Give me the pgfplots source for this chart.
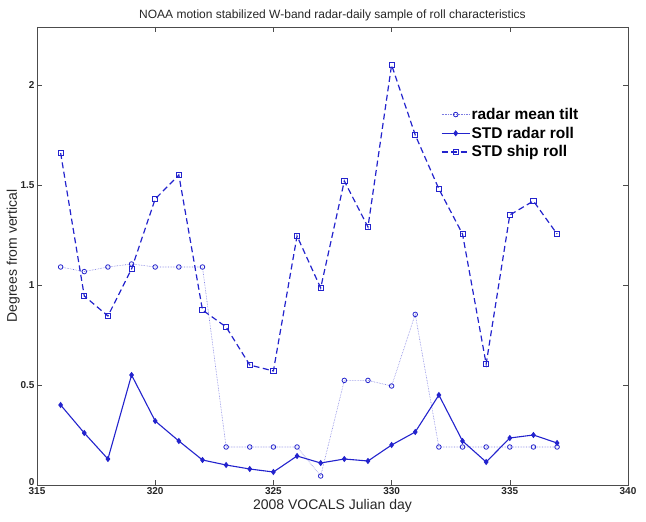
\documentclass[border=0pt]{standalone}
\usepackage{pgfplots}
\pgfplotsset{compat=1.18}
\usepackage{fontspec}
\setmainfont{Liberation Sans}
\definecolor{mb}{RGB}{35,35,205}
\pgfplotstableread{
x tilt radar ship
316 1.09 0.40 1.66
317 1.067 0.26 0.945
318 1.09 0.13 0.845
319 1.105 0.55 1.08
320 1.09 0.32 1.43
321 1.09 0.22 1.55
322 1.09 0.125 0.875
323 0.19 0.10 0.79
324 0.19 0.08 0.60
325 0.19 0.065 0.57
326 0.19 0.145 1.245
327 0.045 0.11 0.985
328 0.523 0.13 1.52
329 0.523 0.12 1.29
330 0.495 0.20 2.10
331 0.853 0.265 1.75
332 0.19 0.45 1.48
333 0.19 0.22 1.255
334 0.19 0.115 0.605
335 0.19 0.235 1.35
336 0.19 0.25 1.42
337 0.19 0.21 1.255
}\data
\begin{document}
\begin{tikzpicture}
\begin{axis}[
  name=ax,
  scale only axis,
  width=591pt, height=458pt,
  xmin=315, xmax=340, ymin=0, ymax=2.29,
  xtick={315,320,...,340},
  ytick={0,0.5,1,1.5,2},
  yticklabels={\raisebox{5pt}{0},0.5,1,1.5,2},
  xticklabel style={/pgf/number format/1000 sep={}},
  /pgf/number format/assume math mode=true,
  tick align=inside,
  major tick length=5pt,
  tick style={black!70, thin},
  axis line style={black!70, thin},
  ticklabel style={font=\fontsize{10}{12}\selectfont\bfseries, text=black!85},
  xticklabel style={yshift=1pt},
  yticklabel style={xshift=1pt},
  title={NOAA motion stabilized W-band radar-daily sample of roll characteristics},
  title style={font=\fontsize{12}{14}\selectfont, text=black!85, yshift=-4pt},
  xlabel={2008 VOCALS Julian day},
  ylabel={Degrees from vertical},
  label style={font=\fontsize{14}{16}\selectfont, text=black!85},
  xlabel style={yshift=2pt},
  ylabel style={yshift=-6pt},
  legend image code/.code={\draw[mark repeat=2,mark phase=2,#1] plot coordinates {(0cm,0cm) (0.5cm,0cm) (1cm,0cm)};},
  legend style={draw=none, fill=none, at={(axis cs:331.95,1.90)}, anchor=north west,
    font=\fontsize{15.5}{18}\selectfont\bfseries, row sep=4pt,
    nodes={inner sep=1pt}},
  legend cell align=left,
]
\addplot[mb!60!white, densely dotted, semithick, mark=o, mark size=2.3pt, mark options={solid, mb, thick}] table[x=x,y=tilt]{\data};
\addlegendentry{radar mean tilt}
\addplot[mb, line width=1.1pt, mark=diamond*, mark size=2.3pt, mark options={solid, mb}] table[x=x,y=radar]{\data};
\addlegendentry{STD radar roll}
\addplot[mb, line width=1.2pt, dash pattern=on 6pt off 3.5pt, mark=square, mark size=2.6pt, mark options={solid, mb, thick}] table[x=x,y=ship]{\data};
\addlegendentry{STD ship roll}
\end{axis}
\path ([xshift=-37pt,yshift=-37pt]ax.south west) rectangle ([xshift=18pt,yshift=27pt]ax.north east);
\end{tikzpicture}
\end{document}
